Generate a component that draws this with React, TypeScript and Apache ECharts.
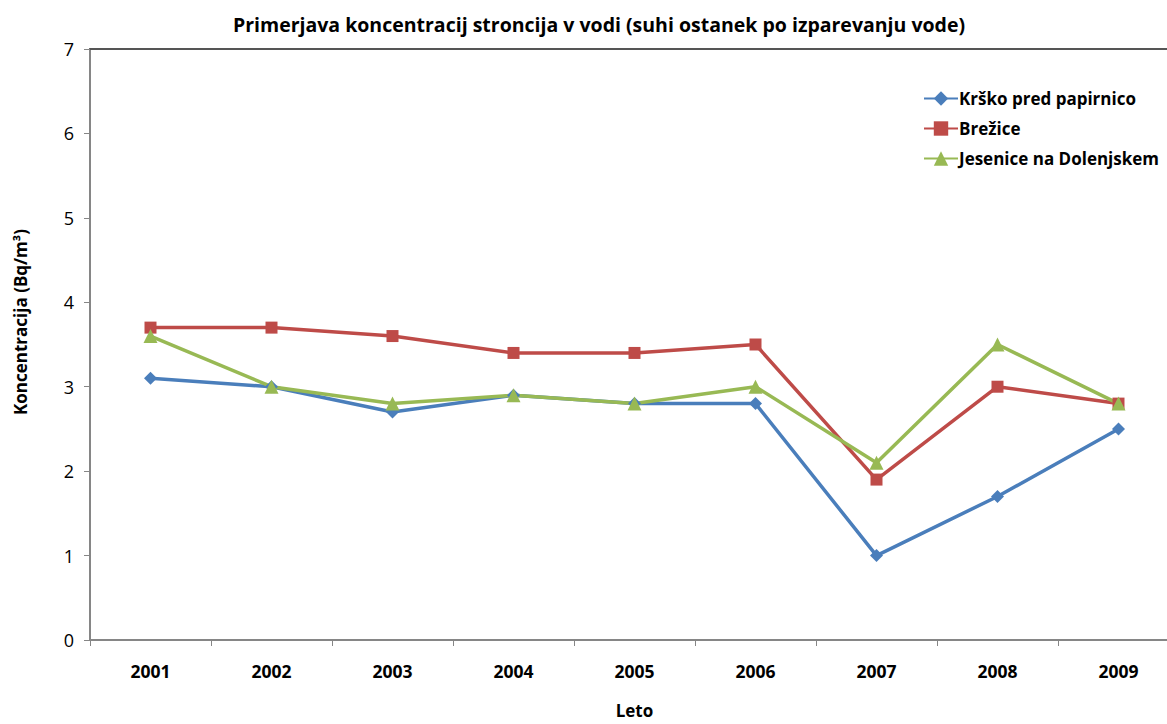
import React, { useEffect, useRef } from "react";
import * as echarts from "echarts";

const years = ["2001", "2002", "2003", "2004", "2005", "2006", "2007", "2008", "2009"];
const krsko = [3.1, 3.0, 2.7, 2.9, 2.8, 2.8, 1.0, 1.7, 2.5];
const brezice = [3.7, 3.7, 3.6, 3.4, 3.4, 3.5, 1.9, 3.0, 2.8];
const jesenice = [3.6, 3.0, 2.8, 2.9, 2.8, 3.0, 2.1, 3.5, 2.8];
const seriesNames = ["Krško pred papirnico", "Brežice", "Jesenice na Dolenjskem"];

const FONT = "'Open Sans', 'DejaVu Sans', sans-serif";

export default function App() {
  const ref = useRef<HTMLDivElement>(null);
  useEffect(() => {
    document.body.style.margin = "0";
    const chart = echarts.init(ref.current!, null, { renderer: "svg" });
    const mk = (name: string, data: number[], color: string, symbol: string, size: number) => ({
      name,
      type: "line",
      data,
      symbol,
      symbolSize: size,
      showSymbol: true,
      lineStyle: { width: 3.5, color },
      itemStyle: { color },
      z: 3,
    });
    chart.setOption({
      animation: false,
      backgroundColor: "#ffffff",
      textStyle: { fontFamily: FONT },
      title: {
        text: "Primerjava koncentracij stroncija v vodi (suhi ostanek po izparevanju vode)",
        left: 594,
        textAlign: "center",
        top: 9,
        textStyle: { fontFamily: FONT, fontSize: 19.5, fontWeight: "bold", color: "#000" },
      },
      legend: {
        orient: "vertical",
        left: 918,
        top: 85,
        itemGap: 13,
        itemWidth: 34,
        itemHeight: 18,
        data: seriesNames,
        textStyle: { fontFamily: FONT, fontSize: 17, fontWeight: "bold", color: "#000", padding: [0, 0, 0, -4] },
      },
      graphic: [
        {
          type: "text",
          x: 20,
          y: 322,
          rotation: Math.PI / 2,
          style: {
            text: "Koncentracija (Bq/m³)",
            fontFamily: FONT,
            fontSize: 17,
            fontWeight: "bold",
            fill: "#000",
            align: "center",
            verticalAlign: "middle",
          },
        },
      ],
      grid: { left: 90, right: 0, top: 49, bottom: 77, containLabel: false },
      xAxis: [
        {
          type: "category",
          data: years,
          boundaryGap: true,
          name: "Leto",
          nameLocation: "middle",
          nameGap: 62,
          nameTextStyle: { fontFamily: FONT, fontSize: 17, fontWeight: "bold", color: "#000" },
          axisLine: { lineStyle: { color: "#868686", width: 2 } },
          axisTick: { show: true, length: 6, lineStyle: { color: "#868686" } },
          axisLabel: { fontFamily: FONT, fontSize: 17.5, fontWeight: "bold", color: "#000", margin: 22 },
        },
        {
          type: "category",
          data: years,
          position: "top",
          axisLine: { lineStyle: { color: "#555555", width: 2 } },
          axisTick: { show: false },
          axisLabel: { show: false },
        },
      ],
      yAxis: {
        type: "value",
        min: 0,
        max: 7,
        interval: 1,
        axisLine: { show: true, lineStyle: { color: "#868686", width: 2 } },
        axisTick: { show: true, length: 6, lineStyle: { color: "#868686" } },
        axisLabel: { fontFamily: FONT, fontSize: 18, color: "#000", margin: 16 },
        splitLine: { show: false },
      },
      series: [
        mk(seriesNames[0], krsko, "#4A7EBB", "diamond", 13),
        mk(seriesNames[1], brezice, "#BE4B48", "rect", 12),
        mk(seriesNames[2], jesenice, "#98B954", "triangle", 14),
      ],
    });
    return () => chart.dispose();
  }, []);
  return (
    <div style={{ width: 1167, height: 724, overflow: "hidden" }}>
      <div ref={ref} style={{ width: 1179, height: 724 }} />
    </div>
  );
}
